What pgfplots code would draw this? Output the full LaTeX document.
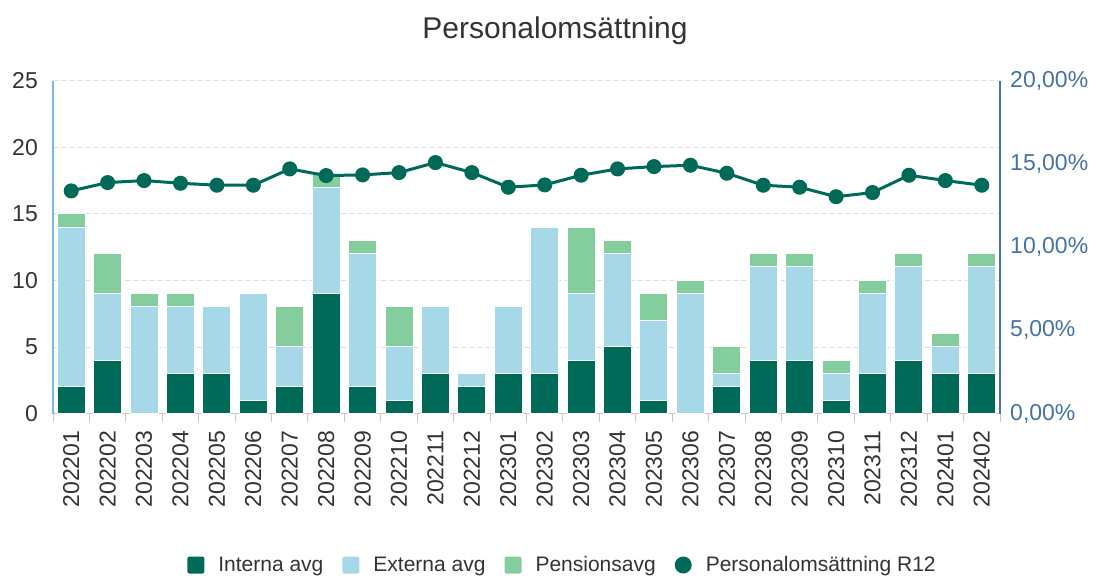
\documentclass[border=0pt]{standalone}
\usepackage{fontspec}
\setmainfont{Liberation Sans}
\usepackage{pgfplots}
\pgfplotsset{compat=1.18}
\definecolor{cInt}{HTML}{006A58}
\definecolor{cExt}{HTML}{A6D8E7}
\definecolor{cPen}{HTML}{84CE9E}
\definecolor{cLine}{HTML}{006A58}
\definecolor{cTxt}{HTML}{333333}
\definecolor{cLeft}{HTML}{7CB5EC}
\definecolor{cRight}{HTML}{4572A7}
\definecolor{cGrid}{HTML}{DDDDDD}
\definecolor{cXax}{HTML}{C8C8C8}
\newcommand{\tickfont}{\fontsize{23pt}{23pt}\selectfont}
\begin{document}
\begin{tikzpicture}
\useasboundingbox (0pt,0pt) rectangle (1100pt,-577pt);
\node[font=\fontsize{30pt}{30pt}\selectfont, text=cTxt] at (555pt,-31pt) {Personalomsättning};
\begin{axis}[
  at={(53pt,-413.5pt)}, anchor=south west,
  scale only axis, width=947pt, height=333pt,
  xmin=-0.5, xmax=25.5, ymin=0, ymax=25,
  ybar stacked, bar width=28pt,
  axis x line*=bottom, axis y line*=left,
  x axis line style={draw=cXax, line width=1pt, -},
  y axis line style={draw=cLeft, line width=1.5pt, -},
  xtick={0,...,25},
  xticklabels={202201,202202,202203,202204,202205,202206,202207,202208,202209,202210,202211,202212,202301,202302,202303,202304,202305,202306,202307,202308,202309,202310,202311,202312,202401,202402},
  minor xtick={-0.5,0.5,...,25.5},
  major tick length=0pt, minor tick length=8pt,
  tick align=outside,
  minor tick style={draw=cXax, line width=1pt},
  ytick={0,5,...,25},
  ymajorgrids,
  grid style={draw=cGrid, dash pattern=on 5pt off 3pt, line width=0.8pt},
  /pgf/number format/assume math mode=true,
  tick label style={font=\tickfont, text=cTxt},
  xticklabel style={rotate=90, anchor=east, inner sep=0pt},
  xticklabel shift=17pt,
  yticklabel style={inner sep=0pt},
  yticklabel shift=15pt,
]
\addplot[fill=cInt, draw=white, line width=1pt] coordinates {
(0,2) (1,4) (2,0) (3,3) (4,3) (5,1) (6,2) (7,9) (8,2) (9,1) (10,3) (11,2) (12,3)
(13,3) (14,4) (15,5) (16,1) (17,0) (18,2) (19,4) (20,4) (21,1) (22,3) (23,4) (24,3) (25,3)};
\addplot[fill=cExt, draw=white, line width=1pt] coordinates {
(0,12) (1,5) (2,8) (3,5) (4,5) (5,8) (6,3) (7,8) (8,10) (9,4) (10,5) (11,1) (12,5)
(13,11) (14,5) (15,7) (16,6) (17,9) (18,1) (19,7) (20,7) (21,2) (22,6) (23,7) (24,2) (25,8)};
\addplot[fill=cPen, draw=white, line width=1pt] coordinates {
(0,1) (1,3) (2,1) (3,1) (4,0) (5,0) (6,3) (7,1) (8,1) (9,3) (10,0) (11,0) (12,0)
(13,0) (14,5) (15,1) (16,2) (17,1) (18,2) (19,1) (20,1) (21,1) (22,1) (23,1) (24,1) (25,1)};
\end{axis}
\begin{axis}[
  at={(53pt,-413.5pt)}, anchor=south west,
  scale only axis, width=947pt, height=333pt,
  xmin=-0.5, xmax=25.5, ymin=0, ymax=20,
  axis x line=none, axis y line*=right,
  y axis line style={draw=cRight, line width=1.5pt, -},
  ytick={0,5,10,15,20},
  yticklabels={{0,00\%},{5,00\%},{10,00\%},{15,00\%},{20,00\%}},
  major tick length=0pt,
  yticklabel style={font=\tickfont, text=cRight, inner sep=0pt},
  yticklabel shift=10pt,
  clip=false,
  legend columns=4,
  legend style={at={(0.537,-0.455)}, anchor=center, draw=none, fill=none,
    font=\fontsize{21pt}{21pt}\selectfont, text=cTxt,
    /tikz/every even column/.append style={column sep=19pt},
    nodes={inner xsep=0pt}},
]
\addlegendimage{legend image code/.code={\fill[cInt, draw=none, rounded corners=2pt] (0pt,-8.5pt) rectangle (17pt,8.5pt); \path[draw=none, fill=none] (0pt,0pt) -- (31pt,0pt);}}
\addlegendentry{Interna avg}
\addlegendimage{legend image code/.code={\fill[cExt, draw=none, rounded corners=2pt] (0pt,-8.5pt) rectangle (17pt,8.5pt); \path[draw=none, fill=none] (0pt,0pt) -- (31pt,0pt);}}
\addlegendentry{Externa avg}
\addlegendimage{legend image code/.code={\fill[cPen, draw=none, rounded corners=2pt] (0pt,-8.5pt) rectangle (17pt,8.5pt); \path[draw=none, fill=none] (0pt,0pt) -- (31pt,0pt);}}
\addlegendentry{Pensionsavg}
\addplot[cLine, line width=3pt, mark=*, mark size=6pt,
  legend image code/.code={\fill[cLine, draw=none] (8.5pt,0pt) circle (8.5pt); \path[draw=none, fill=none] (0pt,0pt) -- (31pt,0pt);}] coordinates {
(0,13.37) (1,13.87) (2,13.99) (3,13.83) (4,13.71) (5,13.71) (6,14.69) (7,14.29) (8,14.33)
(9,14.47) (10,15.07) (11,14.47) (12,13.59) (13,13.73) (14,14.31) (15,14.69) (16,14.83)
(17,14.91) (18,14.43) (19,13.71) (20,13.59) (21,13.02) (22,13.27) (23,14.31) (24,13.99) (25,13.71)};
\addlegendentry{Personalomsättning R12}
\end{axis}
\end{tikzpicture}
\end{document}
